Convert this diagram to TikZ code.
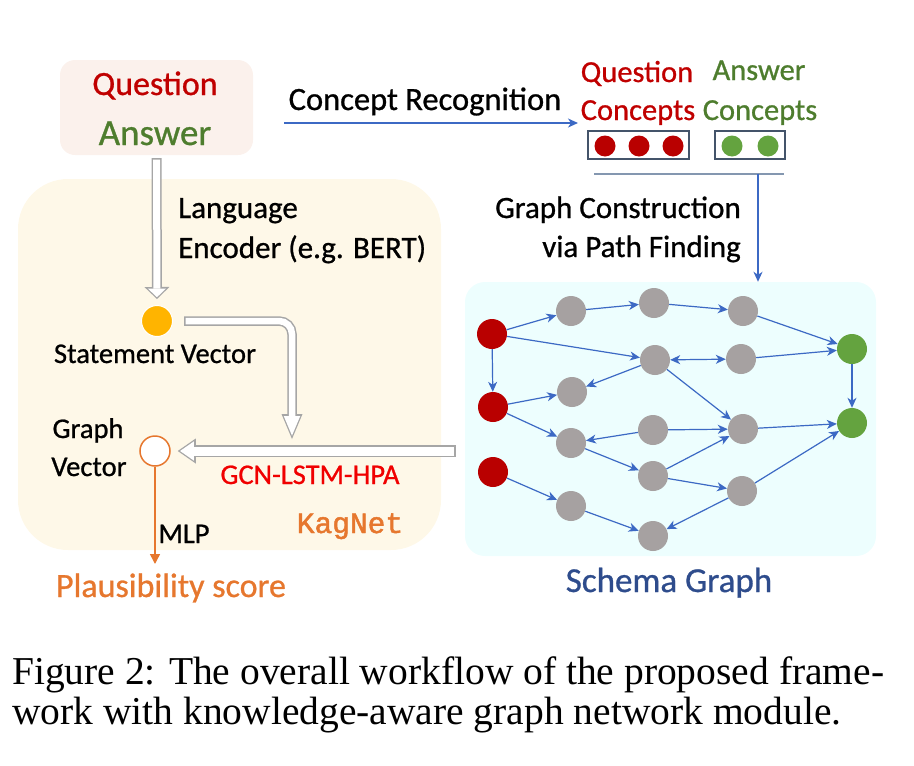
\documentclass[tikz,border=0pt]{standalone}
\usepackage{fontspec}
\setmainfont{Carlito}[FakeBold=0.8]
\newfontfamily\capfont{Liberation Serif}
\newfontfamily\kagfont{Liberation Mono}[FakeBold=1.6]
\usetikzlibrary{arrows.meta}

\definecolor{qred}{HTML}{C00000}
\definecolor{agreen}{HTML}{4E7D2E}
\definecolor{dotred}{HTML}{B90000}
\definecolor{dotgreen}{HTML}{64A33F}
\definecolor{dotgray}{HTML}{A6A1A1}
\definecolor{edgeblue}{HTML}{3C69C4}
\definecolor{hollowgray}{HTML}{A6A6A6}
\definecolor{kagorange}{HTML}{E6772E}
\definecolor{svyellow}{HTML}{FFB400}
\definecolor{schemablue}{HTML}{2E4C8C}
\definecolor{boxgray}{HTML}{44546A}
\definecolor{linegray}{HTML}{8497B0}
\definecolor{qabg}{HTML}{FBF1EC}
\definecolor{kagbg}{HTML}{FEF8E8}
\definecolor{schemabg}{HTML}{EDFEFE}
\definecolor{gcnred}{HTML}{F00000}

\begin{document}
\begin{tikzpicture}[x=1pt, y=-1pt, >={Stealth[length=10pt,width=9pt,inset=3pt]},
    lbl/.style={anchor=base, inner sep=0pt, font=\fontsize{31}{33}\selectfont},
    small/.style={lbl, font=\fontsize{28.5}{30}\selectfont},
    concept/.style={circle, fill, inner sep=0pt, minimum size=30pt},
    qnode/.style={concept, fill=dotred},
    anode/.style={concept, fill=dotgreen},
    gnode/.style={concept, fill=dotgray},
    cdot/.style={circle, fill, inner sep=0pt, minimum size=21pt},
    conbox/.style={draw=boxgray, line width=1.5pt, minimum height=28pt, inner sep=0pt},
    edge/.style={->, edgeblue, line width=1.2pt},
    % hollow arrows: gray pass, then white pass inside it
    outerA/.style={hollowgray, line width=10pt, -{Triangle[length=12pt,width=25pt,line width=0pt]}},
    innerA/.style={white, line width=7pt, shorten <=1.5pt, -{Triangle[length=8.6pt,width=18pt,line width=0pt]}},
    outerB/.style={hollowgray, line width=9.5pt, rounded corners=13pt, -{Triangle[length=25pt,width=21pt,line width=0pt]}},
    innerB/.style={white, line width=6.5pt, rounded corners=13pt, shorten <=1.5pt, -{Triangle[length=19.6pt,width=16.5pt,line width=0pt]}},
    outerC/.style={hollowgray, line width=12pt, -{Triangle[length=18pt,width=25pt,line width=0pt]}},
    innerC/.style={white, line width=9pt, shorten <=1.5pt, -{Triangle[length=13.9pt,width=19.3pt,line width=0pt]}}]
    \useasboundingbox (0,0) rectangle (914,766);

    % backgrounds
    \fill[kagbg, rounded corners=50pt] (18,179) rectangle (441,550);
    \node[fill=schemabg, rounded corners=20pt, minimum width=411pt, minimum height=274pt] (schema) at (670.5,419) {};
    \node[fill=qabg, rounded corners=15pt, minimum width=193pt, minimum height=95pt] (qa) at (156.5,107.5) {};
    \node[lbl, font=\fontsize{34}{36}\selectfont, text=qred] at (155,95) {Question};
    \node[lbl, font=\fontsize{37}{39}\selectfont, text=agreen] at (155,145) {Answer};

    % concept recognition
    \coordinate (crstart) at (284,123);
    \coordinate (crend) at (578,123);
    \draw[edge, line width=1.6pt] (crstart) -- (crend);
    \node[lbl, font=\fontsize{32.5}{34}\selectfont] at (425,110) {Concept Recognition};

    \node[lbl, font=\fontsize{30.5}{32}\selectfont, text=qred] at (637,82) {Question};
    \node[lbl, font=\fontsize{30.5}{32}\selectfont, text=qred] at (638,120) {Concepts};
    \node[lbl, font=\fontsize{30.5}{32}\selectfont, text=agreen] at (759,80) {Answer};
    \node[lbl, font=\fontsize{30.5}{32}\selectfont, text=agreen] at (760,120) {Concepts};

    \node[conbox, minimum width=101pt] (qbox) at (638.5,145) {};
    \node[conbox, minimum width=70pt] (abox) at (750,145) {};
    \node[cdot, fill=dotred] (qc1) at (605,146) {};
    \node[cdot, fill=dotred] (qc2) at (639,146) {};
    \node[cdot, fill=dotred] (qc3) at (673,146) {};
    \node[cdot, fill=dotgreen] (ac1) at (732,146) {};
    \node[cdot, fill=dotgreen] (ac2) at (768,146) {};

    % graph construction
    \coordinate (gl) at (594,174);
    \coordinate (gr) at (784,174);
    \coordinate (gc) at (758,174);
    \draw[linegray, line width=1.5pt] (gl) -- (gr);
    \draw[edge, line width=1.6pt] (gc) -- (gc |- schema.north);
    \node[lbl, anchor=base east] at (741,218) {Graph Construction};
    \node[lbl, anchor=base east] at (741,257) {via Path Finding};

    % language encoder
    \node[lbl, anchor=base west] at (178,218) {Language};
    \node[lbl, anchor=base west] at (178,258) {Encoder (e.g. BERT)};
    \node[circle, fill=svyellow, draw=white, line width=1pt, minimum size=31pt, inner sep=0pt] (sv) at (157,321) {};
    \node[small] at (155,363) {Statement Vector};
    \draw[outerA, shorten <=3pt, shorten >=6pt] (qa.south) -- (sv.north);
    \draw[innerA, shorten <=4.5pt, shorten >=7.8pt] (qa.south) -- (sv.north);

    \node[circle, draw=kagorange, fill=white, line width=1.5pt, minimum size=30pt, inner sep=0pt] (gv) at (155,451) {};
    \node[small] at (88,438) {Graph};
    \node[small] at (89,476) {Vector};
    \coordinate (gcnin) at (292,439);
    \draw[outerB, shorten <=11pt] (sv.east) -| (gcnin);
    \draw[innerB, shorten <=12.5pt, shorten >=3.4pt] (sv.east) -| (gcnin);
    \draw[outerC, shorten <=9pt, shorten >=7pt] (schema.west |- gv) -- (gv);
    \draw[innerC, shorten <=10.5pt, shorten >=9.3pt] (schema.west |- gv) -- (gv);
    \node[small, text=gcnred] at (310,484) {GCN-LSTM-HPA};
    \node[lbl, font=\kagfont\fontsize{29.5}{31}\selectfont, text=kagorange] at (350,533) {KagNet};

    % output
    \node[lbl, font=\fontsize{34}{36}\selectfont, text=kagorange] (score) at (171,597) {Plausibility score};
    \draw[kagorange, line width=1.5pt, -{Triangle[length=10pt,width=10pt]}] (gv) -- (gv |- 0,564);
    \node[small] at (184,543) {MLP};

    % schema graph
    \node[qnode] (q1) at (492,334) {};
    \node[qnode] (q2) at (493,407) {};
    \node[qnode] (q3) at (493,472) {};
    \node[gnode] (n1) at (571,311) {};
    \node[gnode] (n2) at (654,303) {};
    \node[gnode] (n3) at (743,311) {};
    \node[gnode] (n4) at (655,360) {};
    \node[gnode] (n5) at (741,359) {};
    \node[gnode] (n6) at (572,392) {};
    \node[gnode] (n7) at (571,443) {};
    \node[gnode] (n8) at (653,430) {};
    \node[gnode] (n9) at (743,429) {};
    \node[gnode] (n10) at (653,476) {};
    \node[gnode] (n11) at (742,491) {};
    \node[gnode] (n12) at (571,506) {};
    \node[gnode] (n13) at (653,536) {};
    \node[anode] (a1) at (852,349) {};
    \node[anode] (a2) at (852,423) {};

    \draw[edge] (q1) -- (n1);
    \draw[edge] (n1) -- (n2);
    \draw[edge] (n2) -- (n3);
    \draw[edge] (n3) -- (a1);
    \draw[edge] (q1) -- (n4);
    \draw[edge, <->] (n4) -- (n5);
    \draw[edge] (n5) -- (a1);
    \draw[edge] (a1) -- (a2);
    \draw[edge] (q1) -- (q2);
    \draw[edge] (n4) -- (n6);
    \draw[edge] (q2) -- (n6);
    \draw[edge] (q2) -- (n7);
    \draw[edge] (n8) -- (n7);
    \draw[edge] (n8) -- (n9);
    \draw[edge] (n4) -- (n9);
    \draw[edge] (n9) -- (a2);
    \draw[edge] (n7) -- (n10);
    \draw[edge] (n10) -- (n9);
    \draw[edge] (n10) -- (n11);
    \draw[edge] (n11) -- (a2);
    \draw[edge] (q3) -- (n12);
    \draw[edge] (n12) -- (n13);
    \draw[edge] (n11) -- (n13);
    \node[lbl, font=\fontsize{35}{37}\selectfont, text=schemablue] at (669,592) {Schema Graph};

    % caption
    \node[lbl, anchor=base west, font=\capfont\fontsize{39.5}{41}\selectfont] (cap1) at (12,684) {Figure 2: The overall workflow of the proposed frame-};
    \node[lbl, anchor=base west, font=\capfont\fontsize{39.5}{41}\selectfont] (cap2) at (12,724) {work with knowledge-aware graph network module.};
\end{tikzpicture}
\end{document}
